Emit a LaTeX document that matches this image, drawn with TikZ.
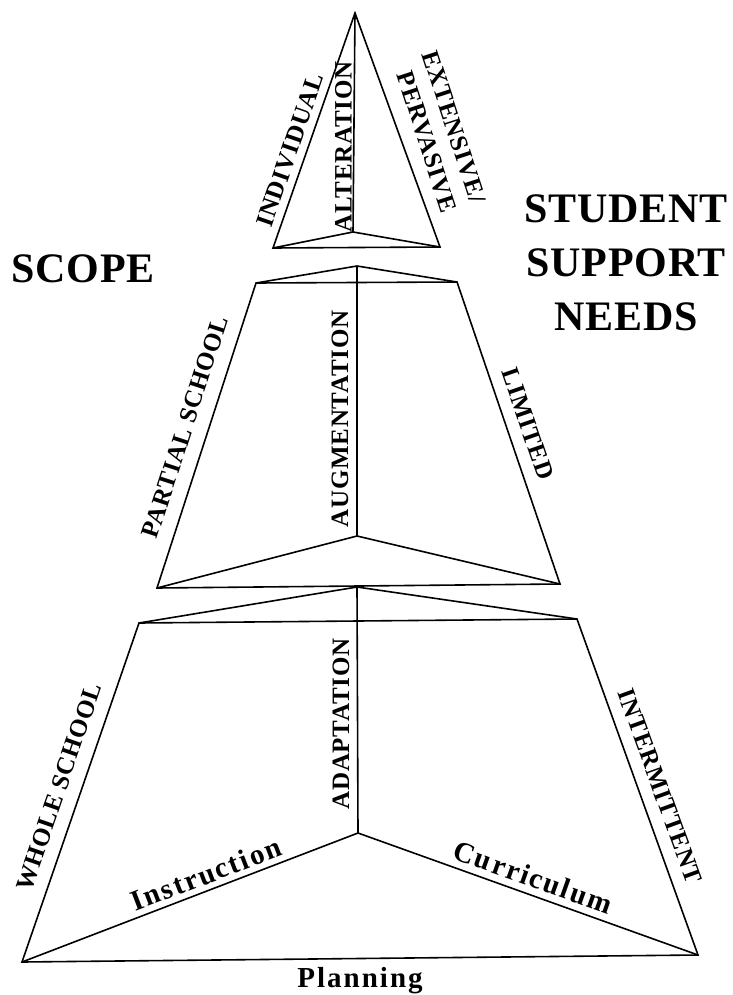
\documentclass[tikz,border=0pt]{standalone}
\usepackage{fontspec}
\setmainfont{Liberation Serif}
\newfontfamily\bigfam[LetterSpace=2]{Liberation Serif}
\newfontfamily\capfam[LetterSpace=3]{Liberation Serif}
\newfontfamily\lowfam[LetterSpace=7]{Liberation Serif}
\begin{document}
\begin{tikzpicture}[x=1pt,y=-1pt,
  edge/.style={line width=1.6pt,line join=miter},
  bigtext/.style={font=\bigfam\bfseries\fontsize{42}{54}\selectfont,inner sep=0pt,align=center},
  caplabel/.style={font=\capfam\bfseries\fontsize{25}{28}\selectfont,inner sep=0pt},
  lowlabel/.style={font=\lowfam\bfseries\fontsize{29}{32}\selectfont,inner sep=0pt}]
\useasboundingbox (0,0) rectangle (732,995);
% top pyramid
\coordinate (ta) at (355,13);
\coordinate (tl) at (273,248);
\coordinate (tr) at (440,247);
\coordinate (tc) at (353,232);
% middle frustum
\coordinate (mtc) at (357,266);
\coordinate (mtl) at (256,283);
\coordinate (mtr) at (457,282);
\coordinate (mbl) at (157,588);
\coordinate (mbr) at (560,584);
\coordinate (mc) at (357,536);
% bottom frustum
\coordinate (btc) at (357,587);
\coordinate (btl) at (139,623);
\coordinate (btr) at (577,619);
\coordinate (bbl) at (22,962);
\coordinate (bbr) at (698,955);
\coordinate (bc) at (358,833);

\draw[edge] (ta) -- (tl) -- (tc) -- (tr) -- cycle;
\draw[edge] (ta) -- (tc);
\draw[edge] (tl) -- (tr);

\draw[edge] (mtl) -- (mtc) -- (mtr) -- (mbr) -- (mbl) -- cycle;
\draw[edge] (mtl) -- (mtr);
\draw[edge] (mtc) -- (mc);
\draw[edge] (mbl) -- (mc) -- (mbr);

\draw[edge] (btl) -- (btc) -- (btr) -- (bbr) -- (bbl) -- cycle;
\draw[edge] (btl) -- (btr);
\draw[edge] (btc) -- (bc);
\draw[edge] (bbl) -- (bc) -- (bbr);

% titles
\node[bigtext] (scope) at (83,269) {SCOPE};
\node[bigtext] (ssn) at (626,263) {STUDENT\\SUPPORT\\NEEDS};

% top labels
\node[caplabel,rotate=71] (indiv) at (290,150) {INDIVIDUAL};
\node[caplabel,rotate=90] (alter) at (343.5,147) {ALTERATION};
\node[caplabel,rotate=-72] (ext) at (454,127) {EXTENSIVE/};
\node[caplabel,rotate=-72] (perv) at (427,142) {PERVASIVE};

% middle labels
\node[caplabel,rotate=72] (partial) at (185,427) {PARTIAL SCHOOL};
\node[caplabel,rotate=90] (augm) at (340,419) {AUGMENTATION};
\node[caplabel,rotate=-71] (limited) at (528,424) {LIMITED};

% bottom labels
\node[caplabel,rotate=71] (whole) at (59,787) {WHOLE SCHOOL};
\node[caplabel,rotate=90] (adapt) at (341,724) {ADAPTATION};
\node[caplabel,rotate=-70] (interm) at (660,786) {INTERMITTENT};
\node[lowlabel,rotate=21] (instr) at (206,874) {Instruction};
\node[lowlabel,rotate=-19.7] (curr) at (533,877) {Curriculum};
\node[lowlabel,anchor=base] (plan) at (360,987) {Planning};
\end{tikzpicture}
\end{document}
